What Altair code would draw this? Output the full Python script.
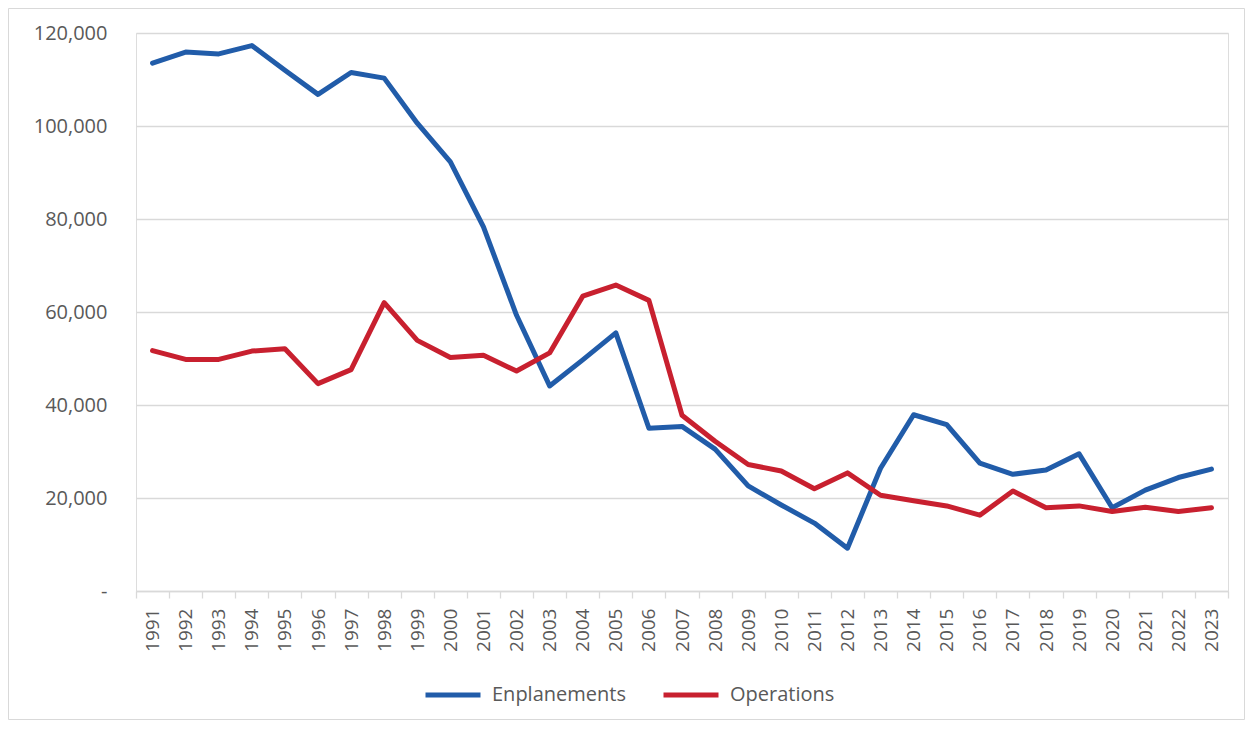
import altair as alt
import pandas as pd

years = [str(y) for y in range(1991, 2024)]
enplanements = [113500, 115900, 115500, 117300, 112000, 106800, 111500, 110300,
                100600, 92300, 78300, 59300, 44100, 49700, 55500, 35000, 35400,
                30500, 22600, 18500, 14600, 9200, 26400, 37900, 35800, 27500,
                25100, 26000, 29500, 17900, 21700, 24400, 26200]
operations = [51700, 49800, 49800, 51600, 52100, 44600, 47600, 62000, 53900,
              50200, 50700, 47300, 51200, 63400, 65800, 62500, 37800, 32200,
              27200, 25800, 22000, 25400, 20600, 19400, 18300, 16300, 21500,
              17900, 18300, 17100, 18000, 17100, 17900]
series_names = ["Enplanements", "Operations"]
series_colors = ["#215CA9", "#C8202F"]
y_ticks = [0, 20000, 40000, 60000, 80000, 100000, 120000]

df = pd.DataFrame({
    "Year": years * 2,
    "Value": enplanements + operations,
    "Series": [series_names[0]] * len(years) + [series_names[1]] * len(years),
})

FONT = "Open Sans"
TEXT = "#595959"
GRID = "#D9D9D9"

lines = alt.Chart(df).mark_line(
    strokeWidth=5, strokeCap="round", strokeJoin="round"
).encode(
    x=alt.X(
        "Year:O",
        bandPosition=0.5,
        scale=alt.Scale(type="band", paddingInner=0, paddingOuter=0),
        axis=alt.Axis(
            title=None, labelAngle=-90, tickBand="extent", tickSize=7,
            labelPadding=10, domainColor=GRID, tickColor=GRID, domainWidth=1.3,
            tickWidth=1.3, labelColor=TEXT, labelFontSize=19, labelFont=FONT,
            grid=False,
        ),
    ),
    y=alt.Y(
        "Value:Q",
        scale=alt.Scale(domain=[0, 120000], nice=False),
        axis=alt.Axis(
            title=None, values=y_ticks,
            labelExpr="datum.value == 0 ? '-\u00a0\u00a0' : format(datum.value, ',')",
            grid=True, gridColor=GRID, gridWidth=1.3, domain=False,
            ticks=False, tickSize=0, labelPadding=29, labelColor=TEXT,
            labelFontSize=20, labelFont=FONT,
        ),
    ),
    color=alt.Color(
        "Series:N",
        scale=alt.Scale(domain=series_names, range=series_colors),
        legend=alt.Legend(
            title=None, orient="none", direction="horizontal",
            legendX=287, legendY=632, symbolType="stroke", symbolSize=3025,
            symbolStrokeWidth=5, labelFontSize=20, labelFont=FONT,
            labelColor=TEXT, labelOffset=9, columnPadding=27, padding=0,
        ),
    ),
)

frame = alt.Chart(pd.DataFrame({"k": [0]})).mark_rect(
    fill=None, stroke=GRID, strokeWidth=1
).encode(
    x=alt.value(-127.5), x2=alt.value(1108.5),
    y=alt.value(-24.5), y2=alt.value(686.5),
)

chart = alt.layer(frame, lines).properties(
    width=1092, height=558,
    padding={"left": 128, "top": 25, "right": 17, "bottom": 129},
    autosize=alt.AutoSizeParams(type="none"),
).configure_view(stroke=None).configure(background="white")

chart.save("out.html", embed_options={"renderer": "svg", "actions": False})
